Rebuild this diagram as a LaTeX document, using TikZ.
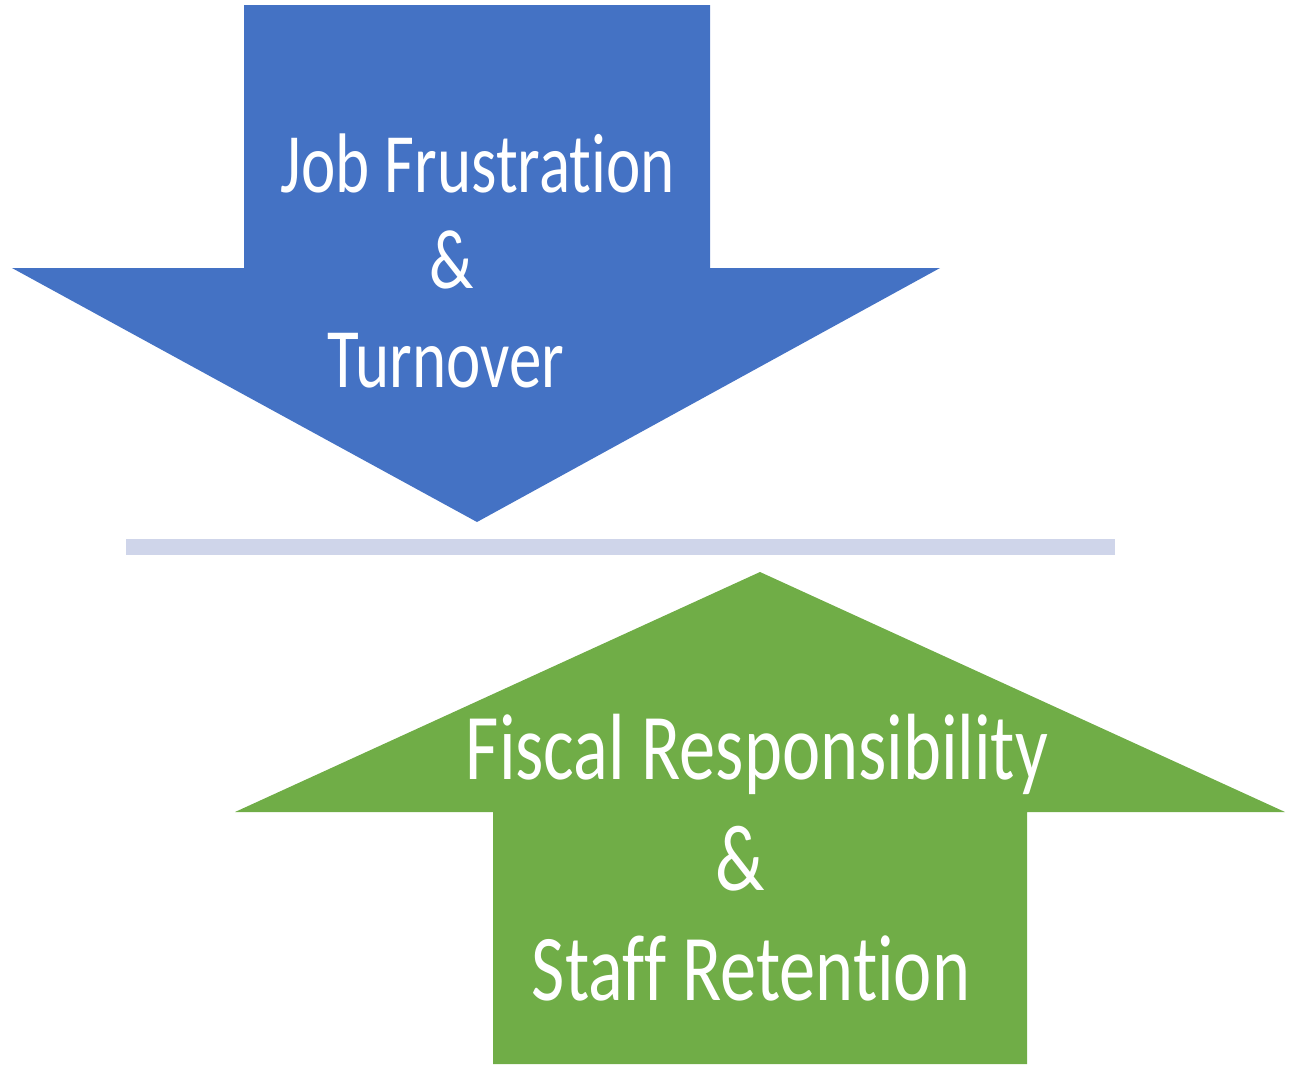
\documentclass[tikz,border=0pt]{standalone}
\usepackage{fontspec}
\setmainfont[Ligatures=NoCommon]{Carlito}
\usepackage{tikz}

\definecolor{arrowblue}{HTML}{4472C4}
\definecolor{arrowgreen}{HTML}{70AD47}
\definecolor{dividerline}{HTML}{CFD5EA}

\tikzset{
    bluetext/.style={text=white, inner sep=0pt, anchor=base, yscale=1.3, font=\fontsize{18.5}{22}\selectfont},
    greentext/.style={text=white, inner sep=0pt, anchor=base, yscale=1.3, font=\fontsize{20.6}{24}\selectfont}
}

\begin{document}
\begin{tikzpicture}
            \useasboundingbox (0,0) rectangle (12.91,10.64);

            % Drawing the downward arrow
            \fill[arrowblue] (2.44,10.59) -- (7.10,10.59) -- (7.10,7.96) -- (9.40,7.96)
                -- (4.77,5.42) -- (0.12,7.96) -- (2.44,7.96) -- cycle;

            % Drawing the divider
            \draw[dividerline, line width=0.16cm] (1.26,5.17) -- (11.15,5.17);

            % Drawing the upward arrow
            \fill[arrowgreen] (4.93,0) -- (10.27,0) -- (10.27,2.52) -- (12.85,2.52)
                -- (7.60,4.92) -- (2.35,2.52) -- (4.93,2.52) -- cycle;

            % Labels
            \node[bluetext] (jobfrustration) at (4.78,8.72) {Job Frustration};
            \node[bluetext] (bluesign) at (4.52,7.76) {\&};
            \node[bluetext] (turnover) at (4.46,6.77) {Turnover};

            \node[greentext] (fiscal) at (7.57,2.85) {Fiscal Responsibility};
            \node[greentext] (greensign) at (7.40,1.74) {\&};
            \node[greentext] (retention) at (7.51,0.64) {Staff Retention};
        \end{tikzpicture}
\end{document}
